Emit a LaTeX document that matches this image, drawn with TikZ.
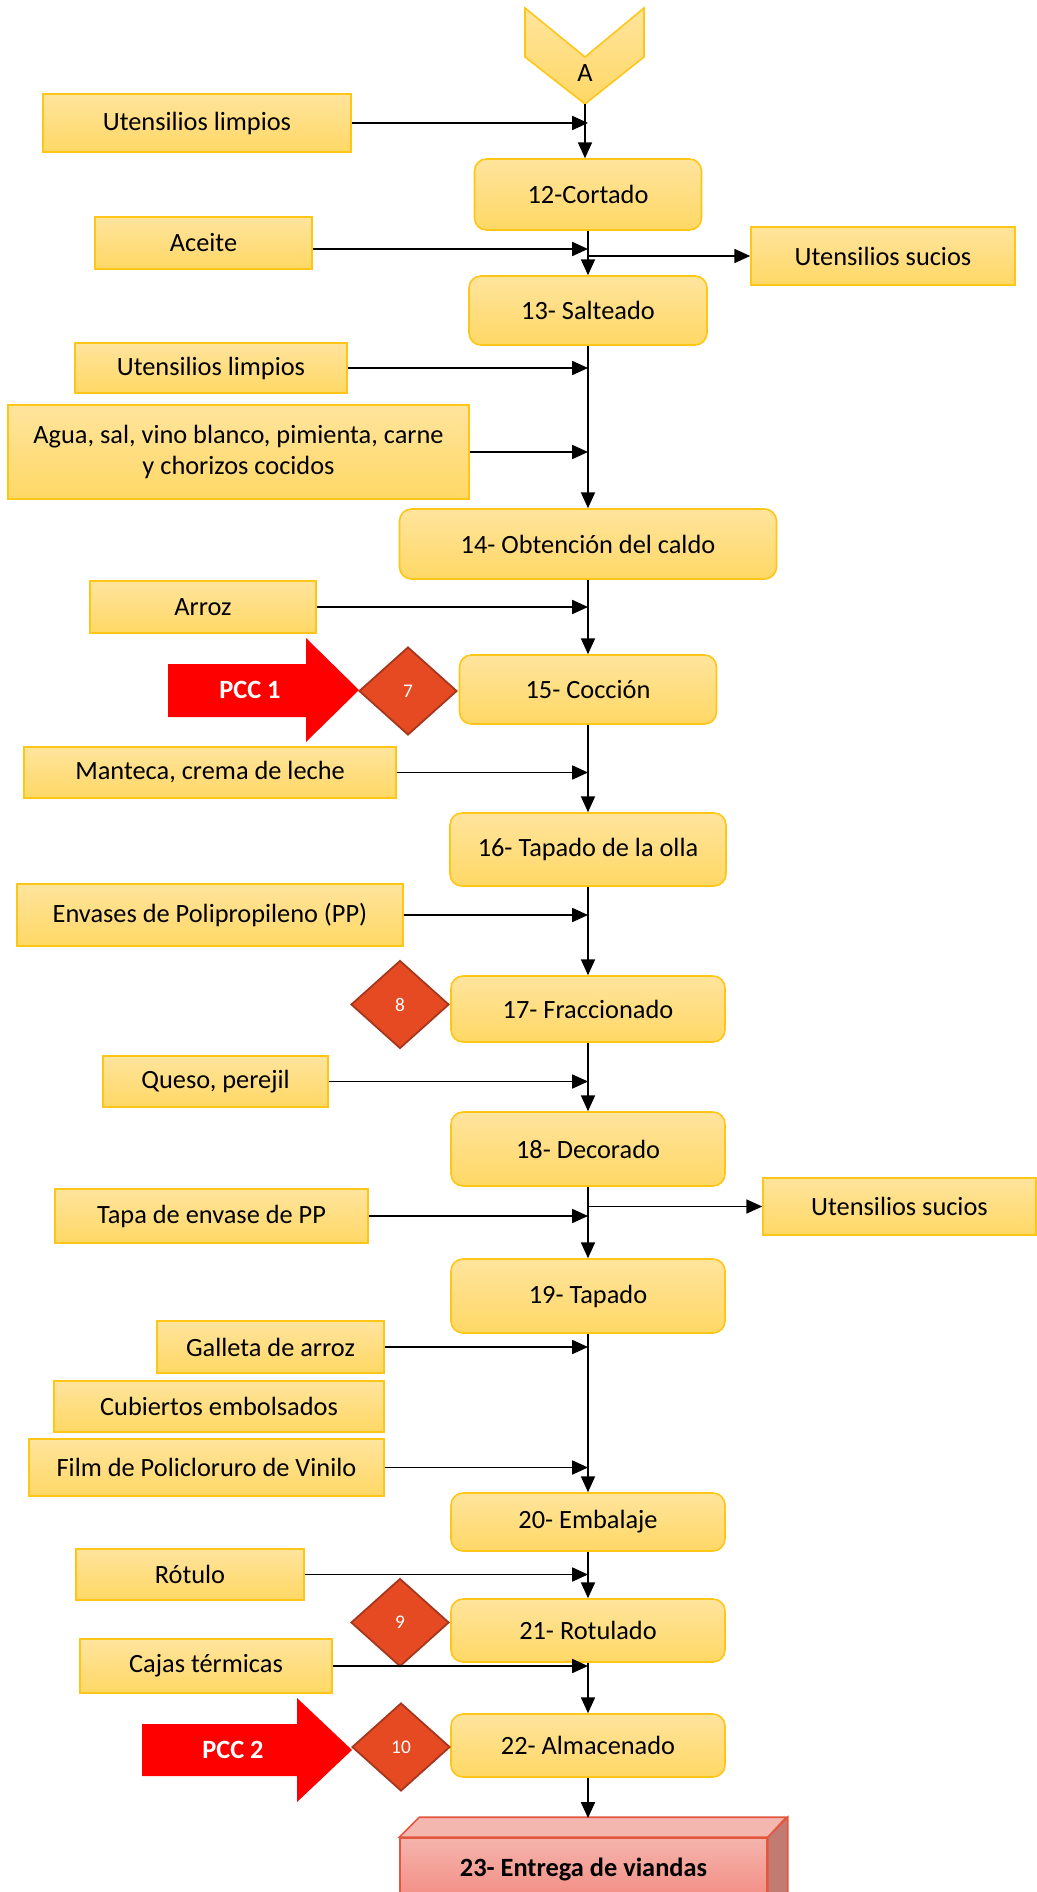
\documentclass[tikz,border=0pt]{standalone}
\usepackage{fontspec}
\setmainfont{Carlito}
\usepackage{xcolor}
\usepackage{tikz}
\usetikzlibrary{arrows.meta,shapes.geometric}

\definecolor{boxtop}{HTML}{FFE49D}
\definecolor{boxbot}{HTML}{FFD865}
\definecolor{boxline}{HTML}{FFC618}
\definecolor{ccpfill}{HTML}{E54A23}
\definecolor{ccpline}{HTML}{A5361C}
\definecolor{pccred}{HTML}{FF0000}
\definecolor{endtop}{HTML}{F4B7AF}
\definecolor{endfront}{HTML}{F29C92}
\definecolor{endside}{HTML}{C27B73}
\definecolor{endline}{HTML}{E4573F}

\begin{document}
\begin{tikzpicture}[x=0.02cm, y=-0.02cm,
    inp/.style={draw=boxline, line width=0.9pt, top color=boxtop, bottom color=boxbot,
        inner sep=2pt, align=center, font=\fontsize{15}{18}\selectfont},
    proc/.style={inp, rounded corners=0.24cm},
    ccp/.style={diamond, draw=ccpline, line width=1pt, fill=ccpfill, text=white, inner sep=0pt,
        minimum width=1.96cm, minimum height=1.76cm, font=\fontsize{11}{13}\selectfont},
    pcc/.style={text=white, font=\bfseries\fontsize{15}{18}\selectfont},
    flow/.style={-{Triangle[length=9pt,width=8pt]}, line width=0.8pt, black}]
    \useasboundingbox (0,0) rectangle (1036,1892);

    % Connector A
    \draw[boxline, line width=0.9pt, top color=boxtop, bottom color=boxbot]
        (525,8) -- (585,57) -- (644,8) -- (644,57) -- (585,104) -- (525,57) -- cycle;
    \node[font=\fontsize{15}{18}\selectfont] (conA) at (585,73) {A};
    \coordinate (atip) at (585,104);

    % Process steps (all on the same column)
    \foreach \n/\y/\w/\h/\t in {cortado/194.5/227/71/{12-Cortado}, salteado/310.5/238/69/{13- Salteado},
        caldo/544/377/70/{14- Obtención del caldo}, coccion/689.5/257/69/{15- Cocción},
        olla/849.5/276/73/{16- Tapado de la olla}, fracc/1009/274/66/{17- Fraccionado},
        decorado/1149/274/74/{18- Decorado}, tapado/1296/274/74/{19- Tapado},
        embalaje/1522/274/58/{20- Embalaje}, rotulado/1630.5/274/63/{21- Rotulado},
        almacen/1745.5/274/63/{22- Almacenado}} {
        \node[proc, minimum width=\w*0.02cm, minimum height=\h*0.02cm] (\n) at (588,\y) {\t};
    }

    % Inputs and outputs
    \foreach \n/\x/\y/\w/\h/\t in {ul1/197/123/308/58/{Utensilios limpios}, aceite/203.5/243/217/52/{Aceite},
        us1/883/256/264/58/{Utensilios sucios}, ul2/211/368/272/50/{Utensilios limpios},
        agua/238.5/452/461/94/{Agua, sal, vino blanco, pimienta, carne\\y chorizos cocidos},
        arroz/203/607/226/52/{Arroz}, manteca/210/772.5/372/51/{Manteca, crema de leche},
        envases/210/915/386/62/{Envases de Polipropileno (PP)}, queso/215.5/1081.5/225/51/{Queso, perejil},
        us2/899.5/1206.5/273/57/{Utensilios sucios}, tapa/211.5/1216/313/54/{Tapa de envase de PP},
        galleta/270.5/1347/227/52/{Galleta de arroz}, cubiertos/219/1406.5/330/51/{Cubiertos embolsados},
        film/206.5/1467.5/355/57/{Film de Policloruro de Vinilo}, rotulo/190/1574.5/228/51/{Rótulo},
        cajas/206/1666/252/54/{Cajas térmicas}} {
        \node[inp, minimum width=\w*0.02cm, minimum height=\h*0.02cm] (\n) at (\x,\y) {\t};
    }

    % Critical control points
    \node[ccp] (ccp7) at (408,691) {7};
    \node[ccp] (ccp8) at (400,1004.5) {8};
    \node[ccp] (ccp9) at (400,1622.5) {9};
    \node[ccp] (ccp10) at (401,1747) {10};

    \fill[pccred] (168,664) -- (306,664) -- (306,638) -- (359,690) -- (306,742) -- (306,717) -- (168,717) -- cycle;
    \node[pcc] (pcc1) at (250,690) {PCC 1};
    \fill[pccred] (142,1724) -- (297,1724) -- (297,1698) -- (352,1750) -- (297,1802) -- (297,1776) -- (142,1776) -- cycle;
    \node[pcc] (pcc2) at (233,1750) {PCC 2};

    % Final step (box)
    \node[draw=endline, line width=0.9pt, top color=endtop!90!endfront, bottom color=endfront!90!red,
        minimum width=7.34cm, minimum height=1.24cm, font=\bfseries\fontsize{15}{18}\selectfont]
        (entrega) at (583.5,1869) {23- Entrega de viandas};
    \draw[endline, line width=0.9pt, fill=endtop] (entrega.north west) -- ++(20,-20) -- ++(367,0)
        -- (entrega.north east) -- cycle;
    \draw[endline, line width=0.9pt, fill=endside] (entrega.north east) -- ++(20,-20) -- ++(0,80)
        -- (entrega.south east) -- cycle;
    \coordinate (etop) at (588,1818);

    % Main flow
    \draw[flow] (atip) -- (atip |- cortado.north);
    \foreach \a/\b in {cortado/salteado, salteado/caldo, caldo/coccion, coccion/olla, olla/fracc,
        fracc/decorado, decorado/tapado, tapado/embalaje, embalaje/rotulado, rotulado/almacen} {
        \draw[flow] (\a.south) -- (\b.north);
    }
    \draw[flow] (almacen.south) -- (etop);

    % Side inputs
    \foreach \n/\t in {ul1/cortado, ul2/caldo, agua/caldo, arroz/coccion, manteca/olla,
        envases/fracc, queso/decorado, tapa/tapado, galleta/embalaje, film/embalaje, rotulo/rotulado,
        cajas/almacen} {
        \draw[flow] (\n.east) -- (\n.east -| \t.north);
    }
    \draw[flow] ([yshift=-0.12cm]aceite.east) -- ([yshift=-0.12cm]aceite.east -| salteado.north);
    \draw[flow] (us1.west -| cortado.south) -- (us1.west);
    \draw[flow] (us2.west -| decorado.south) -- (us2.west);
\end{tikzpicture}
\end{document}
